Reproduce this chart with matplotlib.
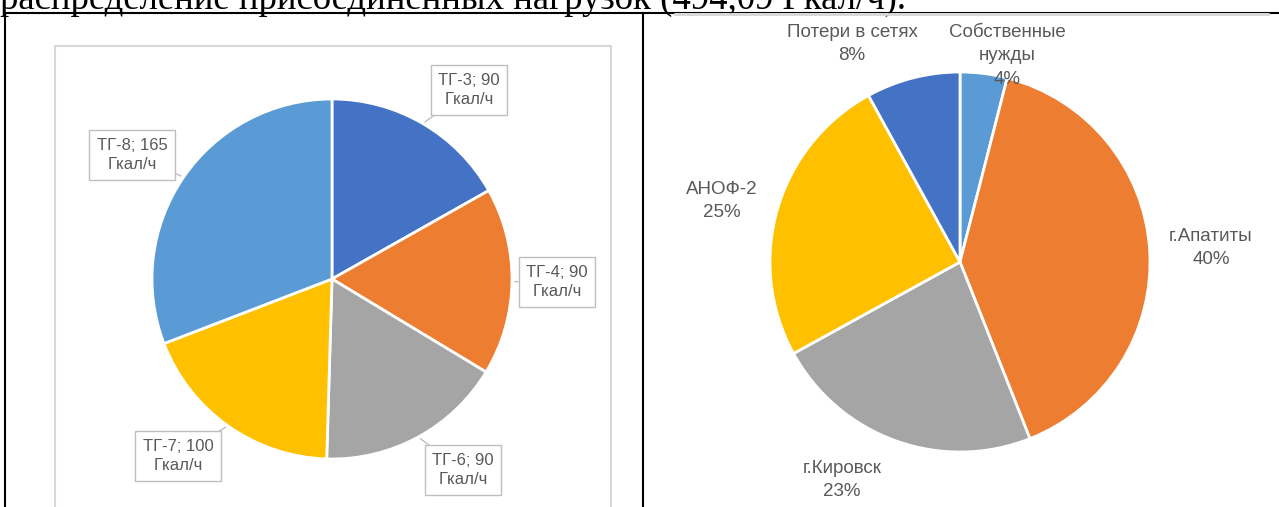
import numpy as np
import matplotlib.pyplot as plt
from matplotlib.patches import Rectangle

# ==============================
# Data
# ==============================
left_labels = ['ТГ-3', 'ТГ-4', 'ТГ-6', 'ТГ-7', 'ТГ-8']
left_values = [90, 90, 90, 100, 165]
left_colors = ['#4472C4', '#ED7D31', '#A5A5A5', '#FFC000', '#5B9BD5']

right_labels = ['Собственные\nнужды', 'г.Апатиты', 'г.Кировск', 'АНОФ-2', 'Потери в сетях']
right_values = [4, 40, 23, 25, 8]
right_colors = ['#5B9BD5', '#ED7D31', '#A5A5A5', '#FFC000', '#4472C4']

title_text = 'распределение присоединенных нагрузок (494,09 Гкал/ч).'

# label centres in pixel coords (x, y from top)
left_label_pos = [(469, 90), (557, 282), (463, 470), (178, 456), (132, 155)]
right_label_pos = [(1007, 56), (1211, 248), (842, 480), (722, 201), (852, 44)]

W, H = 1279, 507
TXT = '#595959'

fig = plt.figure(figsize=(W / 100, H / 100), dpi=100)
ax = fig.add_axes([0, 0, 1, 1])
ax.set_xlim(0, W)
ax.set_ylim(0, H)
ax.axis('off')


def py(y):
    # pixel row (from top) -> data y
    return H - y


# ==============================
# Page text and table borders
# ==============================
# the source page line is cut at the top edge, as in the scan
ax.text(0, py(9), title_text, fontsize=26.5, family='Liberation Serif',
        ha='left', va='baseline', color='black', clip_on=False)
ax.plot([5, W], [py(13), py(13)], color='black', lw=1.5)
ax.plot([5, 5], [py(13), 0], color='black', lw=1.5)
ax.plot([643, 643], [py(13), 0], color='black', lw=1.5)

# chart areas
ax.add_patch(Rectangle((55, -5), 611 - 55, py(46) + 5, fill=False,
                       edgecolor='#d9d9d9', lw=1.5))
ax.add_patch(Rectangle((675, py(20)), 1268 - 675, 7, facecolor='white',
                       edgecolor='none', zorder=2))
ax.plot([675, 1268], [py(13.5), py(13.5)], color='#d6d6d6', lw=2, zorder=3)

# ==============================
# Left pie
# ==============================
lc, lr = (332, py(279)), 180
wedges, _ = ax.pie(left_values, colors=left_colors, startangle=90,
                   counterclock=False, center=lc, radius=lr,
                   wedgeprops=dict(edgecolor='white', linewidth=2))

for w, lab, val, (tx, ty) in zip(wedges, left_labels, left_values, left_label_pos):
    ang = np.deg2rad((w.theta1 + w.theta2) / 2)
    px = lc[0] + lr * np.cos(ang)
    pyy = lc[1] + lr * np.sin(ang)
    ax.annotate(f'{lab}; {val}\nГкал/ч', xy=(px, pyy), xytext=(tx, py(ty)),
                ha='center', va='center', fontsize=12, color=TXT,
                family='Liberation Sans', linespacing=1.35,
                bbox=dict(boxstyle='square,pad=0.45', fc='white', ec='#bfbfbf', lw=1),
                arrowprops=dict(arrowstyle='-', color='#bfbfbf', lw=1,
                                shrinkA=0, shrinkB=2))

# ==============================
# Right pie
# ==============================
rc, rr = (960, py(262)), 190
ax.pie(right_values, colors=right_colors, startangle=90,
       counterclock=False, center=rc, radius=rr,
       wedgeprops=dict(edgecolor='white', linewidth=2))

total = sum(right_values)
for lab, val, (tx, ty) in zip(right_labels, right_values, right_label_pos):
    ax.text(tx, py(ty), f'{lab}\n{round(val / total * 100)}%', ha='center',
            va='center', fontsize=13.5, color=TXT, family='Liberation Sans',
            linespacing=1.5, zorder=5)

ax.set_xlim(0, W)
ax.set_ylim(0, H)
ax.set_aspect('auto')

fig.savefig('out.png', dpi=100)
